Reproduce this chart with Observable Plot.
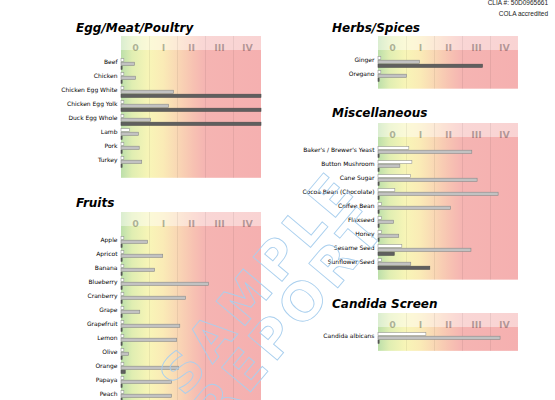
<!DOCTYPE html>
<html><head><meta charset="utf-8">
<script src="https://cdn.jsdelivr.net/npm/d3@7"></script>
<script src="https://cdn.jsdelivr.net/npm/@observablehq/plot@0.6"></script>
<style>
html,body{margin:0;padding:0;background:#fff;}
#page{position:relative;width:555px;height:400px;overflow:hidden;font-family:"DejaVu Sans",sans-serif;}
.title{position:absolute;font:italic bold 12px/12px "DejaVu Sans",sans-serif;color:#000;white-space:nowrap;}
.panel{position:absolute;}
.panel svg{display:block;overflow:visible;}
.clia{position:absolute;right:7px;top:-2px;font:6.5px/10.5px "Liberation Sans",sans-serif;text-align:right;color:#222;}
#wm{position:absolute;left:0;top:0;pointer-events:none;}
</style></head>
<body>
<div id="page">
  <div class="clia">CLIA #: 50D0965661<br>COLA accredited</div>
</div>
<script>
// ---- data ----
const classes = ["0", "I", "II", "III", "IV"];

const eggFoods = ["Beef", "Chicken", "Chicken Egg White", "Chicken Egg Yolk", "Duck Egg Whole", "Lamb", "Pork", "Turkey"];
const eggWhite = [0.1, 0.1, 0.1, 0.1, 0.1, 0.3, 0.1, 0.1];
const eggGray  = [0.48, 0.52, 1.88, 1.7, 1.06, 0.62, 0.65, 0.74];
const eggDark  = [0.04, 0.04, 5, 5, 5, 0.04, 0.04, 0.04];

const fruitFoods = ["Apple", "Apricot", "Banana", "Blueberry", "Cranberry", "Grape", "Grapefruit", "Lemon", "Olive", "Orange", "Papaya", "Peach"];
const fruitWhite = [0.1, 0.1, 0.1, 0.1, 0.1, 0.1, 0.1, 0.1, 0.1, 0.1, 0.1, 0.1];
const fruitGray  = [0.95, 1.49, 1.2, 3.12, 2.31, 0.67, 2.1, 1.99, 0.27, 2.06, 1.81, 1.8];
const fruitDark  = [0.04, 0.04, 0.04, 0.04, 0.04, 0.04, 0.04, 0.04, 0.04, 0.15, 0.04, 0.04];

const herbFoods = ["Ginger", "Oregano"];
const herbWhite = [0.1, 0.1];
const herbGray  = [1.48, 1.02];
const herbDark  = [3.73, 0.04];

const miscFoods = ["Baker's / Brewer's Yeast", "Button Mushroom", "Cane Sugar", "Cocoa Bean (Chocolate)", "Coffee Bean", "Flaxseed", "Honey", "Sesame Seed", "Sunflower Seed"];
const miscWhite = [1.1, 1.21, 1.16, 0.6, 0.12, 0.12, 0.12, 0.85, 0.12];
const miscGray  = [3.35, 0.78, 3.54, 4.29, 2.59, 0.56, 0.74, 3.32, 1.17];
const miscDark  = [0.04, 0.04, 0.04, 0.04, 0.04, 0.04, 0.04, 0.58, 1.85];

const candFoods = ["Candida albicans"];
const candWhite = [1.71];
const candGray  = [4.36];
const candDark  = [0.04];

// ---- layout ----
const ROW = 14.85, HEAD = 14, TOP = 4, BOTTOM = 5;
const page = document.getElementById("page");

const stops = [
  [0, "rgb(188,223,170)"], [0.08, "rgb(224,238,178)"], [0.2, "rgb(248,245,183)"],
  [0.3, "rgb(250,235,182)"], [0.42, "rgb(249,212,180)"], [0.52, "rgb(247,193,178)"],
  [0.6, "rgb(245,180,178)"], [1, "rgb(245,176,176)"]
];

function panel({id, title, titleX, titleTop, foods, white, gray, dark, svgLeft, plotLeft, plotRight, top}) {
  const n = foods.length;
  const H = HEAD + TOP + n * ROW + BOTTOM;
  const rows = foods.map((f, i) => ({food: f, white: white[i], gray: gray[i], dark: dark[i]}));
  const span = [{x1: 0, x2: classes.length}];
  const grad = `url(#grad-${id})`;
  const bars = (key, t, h, fill, stroke) => Plot.barX(rows, {
    x1: () => 0, x2: key, y: "food", fill, stroke, strokeWidth: 0.6,
    insetTop: t, insetBottom: ROW - t - h
  });
  const svg = Plot.plot({
    width: plotRight - svgLeft, height: H,
    marginLeft: plotLeft - svgLeft, marginRight: 0, marginTop: 0, marginBottom: 0,
    x: {domain: [0, classes.length], axis: null},
    y: {type: "band", domain: foods, range: [HEAD + TOP, HEAD + TOP + n * ROW], padding: 0, axis: null},
    style: {fontFamily: "DejaVu Sans", background: "transparent", overflow: "visible"},
    marks: [
      Plot.rect(span, {x1: "x1", x2: "x2", fill: grad, insetTop: HEAD}),
      Plot.rect(span, {x1: "x1", x2: "x2", fill: grad, insetBottom: H - HEAD}),
      Plot.rect(span, {x1: "x1", x2: "x2", fill: "#fff", fillOpacity: 0.45, insetBottom: H - HEAD}),
      Plot.ruleX(d3.range(1, classes.length), {stroke: "#000", strokeOpacity: 0.07}),
      Plot.text(classes, {x: (d, i) => i + 0.5, text: d => d, frameAnchor: "top", dy: 7.5,
        fontSize: 9.5, fontWeight: "bold", fill: "#000", fillOpacity: 0.3}),
      bars("white", 1.7, 3.5, "#fff", "#9a9a9a"),
      bars("gray", 5.2, 4, "#c2c2c2", "#8a8a8a"),
      bars("dark", 9.2, 4, "#5f5f5f", "#4a4a4a"),
      Plot.text(foods, {y: d => d, text: d => d, frameAnchor: "left", dx: -4, dy: -2,
        textAnchor: "end", fontSize: 6, fill: "#000"})
    ]
  });
  const defs = d3.select(svg).insert("defs", ":first-child");
  const lg = defs.append("linearGradient").attr("id", `grad-${id}`)
    .attr("x1", 0).attr("x2", 1).attr("y1", 0).attr("y2", 0);
  stops.forEach(([o, c]) => lg.append("stop").attr("offset", o).attr("stop-color", c));

  const wrap = document.createElement("div");
  wrap.className = "panel";
  wrap.style.left = svgLeft + "px";
  wrap.style.top = top + "px";
  wrap.appendChild(svg);
  page.appendChild(wrap);

  const t = document.createElement("div");
  t.className = "title";
  t.style.left = titleX + "px";
  t.style.top = titleTop + "px";
  t.textContent = title;
  page.appendChild(t);
}

panel({id: "egg", title: "Egg/Meat/Poultry", titleX: 76, titleTop: 22, foods: eggFoods, white: eggWhite, gray: eggGray, dark: eggDark, svgLeft: 0, plotLeft: 121, plotRight: 261, top: 36});
panel({id: "fruit", title: "Fruits", titleX: 76, titleTop: 196.5, foods: fruitFoods, white: fruitWhite, gray: fruitGray, dark: fruitDark, svgLeft: 0, plotLeft: 121, plotRight: 261, top: 212});
panel({id: "herb", title: "Herbs/Spices", titleX: 332, titleTop: 21.5, foods: herbFoods, white: herbWhite, gray: herbGray, dark: herbDark, svgLeft: 280, plotLeft: 378, plotRight: 518, top: 36});
panel({id: "misc", title: "Miscellaneous", titleX: 332, titleTop: 107, foods: miscFoods, white: miscWhite, gray: miscGray, dark: miscDark, svgLeft: 280, plotLeft: 378, plotRight: 518, top: 123});
panel({id: "cand", title: "Candida Screen", titleX: 332, titleTop: 298, foods: candFoods, white: candWhite, gray: candGray, dark: candDark, svgLeft: 280, plotLeft: 378, plotRight: 518, top: 313});

// watermark
const ns = "http://www.w3.org/2000/svg";
const wm = document.createElementNS(ns, "svg");
wm.setAttribute("id", "wm");
wm.setAttribute("width", 555);
wm.setAttribute("height", 400);
[["SAMPLE", 258, 282], ["REPORT", 290, 317]].forEach(([s, x, y]) => {
  const tx = document.createElementNS(ns, "text");
  tx.setAttribute("transform", `translate(${x},${y}) rotate(-50)`);
  tx.setAttribute("text-anchor", "middle");
  tx.setAttribute("dominant-baseline", "central");
  tx.setAttribute("font-family", "DejaVu Sans");
  tx.setAttribute("font-weight", "bold");
  tx.setAttribute("font-size", 52);
  tx.setAttribute("letter-spacing", 6);
  tx.setAttribute("fill", "none");
  tx.setAttribute("stroke", "#a9cfee");
  tx.setAttribute("stroke-width", 0.9);
  tx.textContent = s;
  wm.appendChild(tx);
});
page.appendChild(wm);
</script>
</body></html>
